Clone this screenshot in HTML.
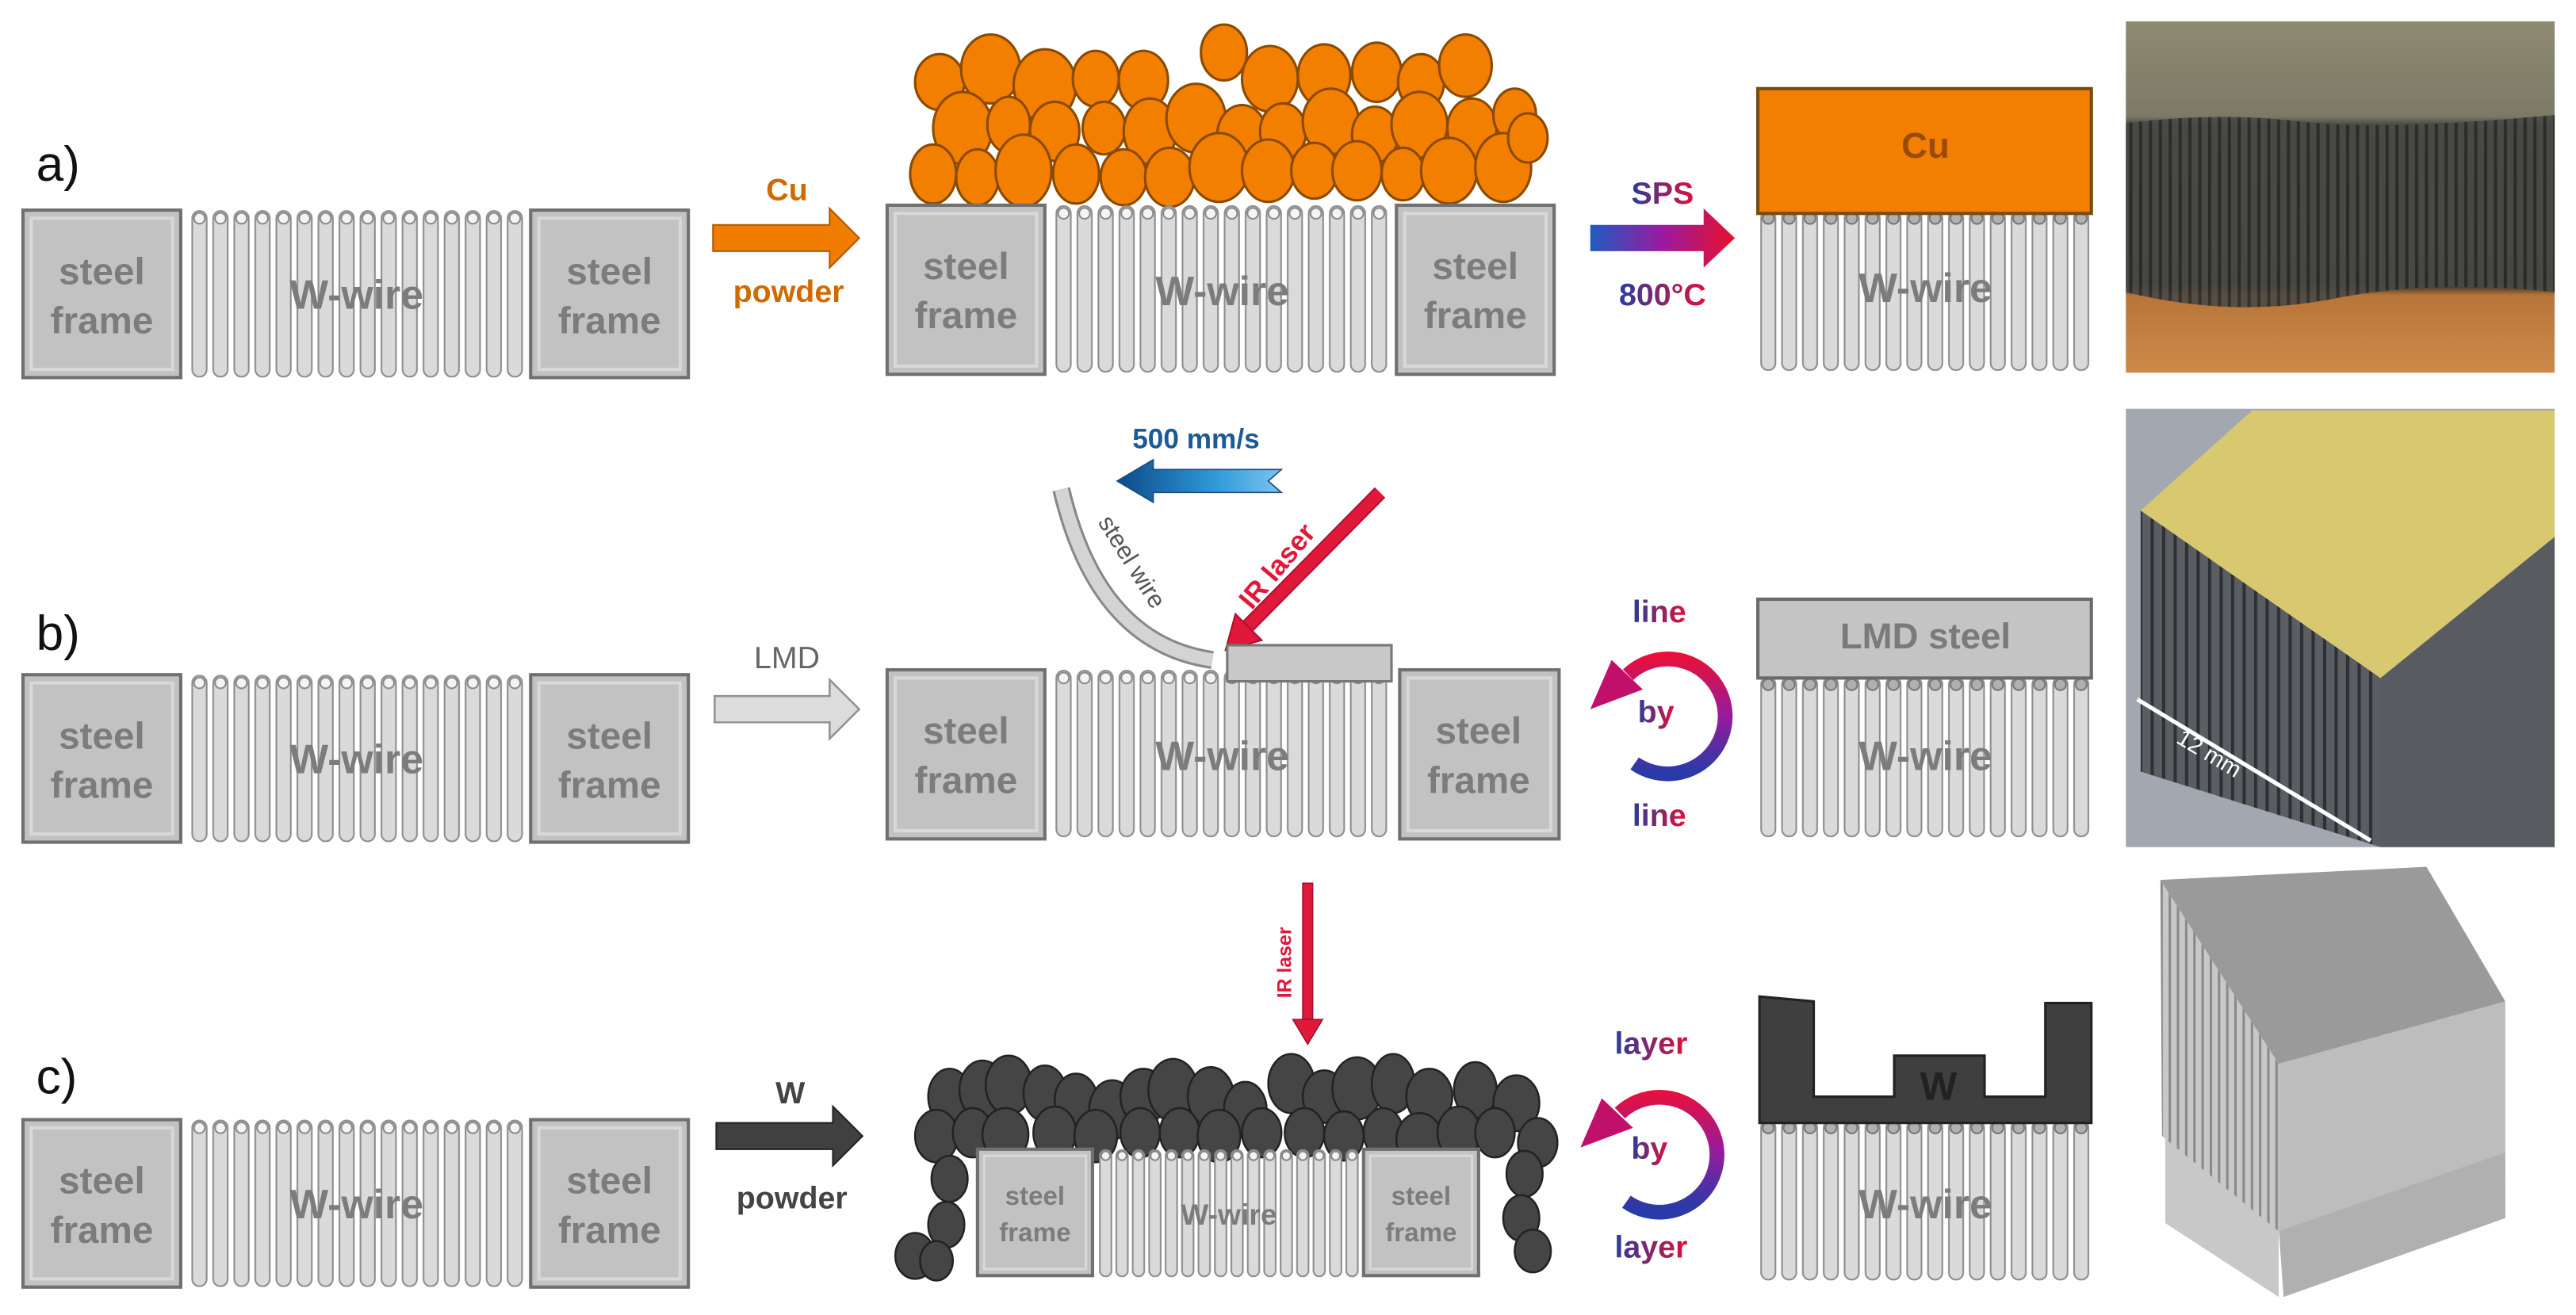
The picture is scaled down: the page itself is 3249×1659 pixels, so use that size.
<!DOCTYPE html>
<html><head><meta charset="utf-8"><style>
html,body{margin:0;padding:0;background:#fff;}
svg{display:block;}
text{font-family:"Liberation Sans",sans-serif;}
</style></head><body>
<svg width="3249" height="1659" viewBox="0 0 1568 801" preserveAspectRatio="none" xmlns="http://www.w3.org/2000/svg">
<defs>
<pattern id="w102" patternUnits="userSpaceOnUse" x="0" y="0" width="12.8" height="103"><rect x="2" y="0.5" width="8.8" height="101" rx="4.4" fill="#dadada" stroke="#8c8c8c" stroke-width="1"/><circle cx="6.4" cy="5" r="3.3" fill="#f4f4f4" stroke="#888" stroke-width="1"/></pattern>
<pattern id="w98" patternUnits="userSpaceOnUse" x="0" y="0" width="12.7" height="99"><rect x="2" y="0.5" width="8.7" height="97" rx="4.3" fill="#dadada" stroke="#8c8c8c" stroke-width="1"/><circle cx="6.35" cy="5" r="3.4" fill="#b0b0b0" stroke="#777" stroke-width="1"/></pattern>
<pattern id="w78" patternUnits="userSpaceOnUse" x="0" y="0" width="10" height="79"><rect x="1.5" y="0.5" width="7" height="77" rx="3.5" fill="#dadada" stroke="#8c8c8c" stroke-width="1"/><circle cx="5" cy="4" r="2.7" fill="#f4f4f4" stroke="#888" stroke-width="1"/></pattern>
<linearGradient id="sps" x1="0" x2="1" y1="0" y2="0"><stop offset="0" stop-color="#1f5cc0"/><stop offset="0.5" stop-color="#9a1aa0"/><stop offset="1" stop-color="#e8102a"/></linearGradient>
<linearGradient id="spsT" x1="0" x2="1" y1="0" y2="0"><stop offset="0" stop-color="#2a3c9c"/><stop offset="1" stop-color="#e0103a"/></linearGradient>
<linearGradient id="blu" x1="0" x2="1"><stop offset="0" stop-color="#0d4a8a"/><stop offset="0.6" stop-color="#2f9ad8"/><stop offset="1" stop-color="#7ac4ee"/></linearGradient>
<linearGradient id="cb" gradientUnits="userSpaceOnUse" x1="0" y1="400" x2="0" y2="470"><stop offset="0" stop-color="#e8103a"/><stop offset="0.5" stop-color="#9a1a9a"/><stop offset="1" stop-color="#2a3aa8"/></linearGradient>
<linearGradient id="cc" gradientUnits="userSpaceOnUse" x1="0" y1="665" x2="0" y2="735"><stop offset="0" stop-color="#e8103a"/><stop offset="0.5" stop-color="#9a1a9a"/><stop offset="1" stop-color="#2a3aa8"/></linearGradient>
<linearGradient id="pa" x1="0" x2="0" y1="0" y2="1"><stop offset="0" stop-color="#8e8a72"/><stop offset="0.27" stop-color="#7c7a66"/><stop offset="0.3" stop-color="#3e3e38"/><stop offset="0.75" stop-color="#2e2e2a"/><stop offset="0.78" stop-color="#b8753a"/><stop offset="1" stop-color="#cc8a48"/></linearGradient>
<pattern id="streak" patternUnits="userSpaceOnUse" width="6" height="10"><rect width="6" height="10" fill="#4a4a46"/><rect width="2" height="10" fill="#2a2a28"/></pattern>
<pattern id="streak2" patternUnits="userSpaceOnUse" width="5" height="10"><rect width="5" height="10" fill="#c8c8c8"/><rect width="1.5" height="10" fill="#8a8a8a"/></pattern>
<pattern id="streak3" patternUnits="userSpaceOnUse" width="7" height="10"><rect width="7" height="10" fill="#5a5e62"/><rect width="2" height="10" fill="#2e3034"/></pattern>
</defs>

<!-- ===== ROW A ===== -->
<text x="22" y="110" font-size="30" fill="#111">a)</text>
<rect x="14" y="128" width="96" height="102" fill="#c2c2c2" stroke="#707070" stroke-width="2"/>
<rect x="19" y="133" width="86" height="92" fill="none" stroke="#d8d8d8" stroke-width="2"/>
<text x="62" y="173" font-size="23" font-weight="bold" fill="#7c7c7c" text-anchor="middle">steel</text>
<text x="62" y="203" font-size="23" font-weight="bold" fill="#7c7c7c" text-anchor="middle">frame</text>
<g transform="translate(115,128)"><rect width="205" height="102" fill="url(#w102)"/></g>
<text x="217" y="188" font-size="25" font-weight="bold" fill="#7c7c7c" text-anchor="middle">W-wire</text>
<rect x="323" y="128" width="96" height="102" fill="#c2c2c2" stroke="#707070" stroke-width="2"/>
<rect x="328" y="133" width="86" height="92" fill="none" stroke="#d8d8d8" stroke-width="2"/>
<text x="371" y="173" font-size="23" font-weight="bold" fill="#7c7c7c" text-anchor="middle">steel</text>
<text x="371" y="203" font-size="23" font-weight="bold" fill="#7c7c7c" text-anchor="middle">frame</text>
<text x="479" y="122" font-size="19" font-weight="bold" fill="#d06a00" text-anchor="middle">Cu</text>
<polygon points="434,137 505,137 505,127 523,145 505,163 505,153 434,153" fill="#f07d00" stroke="#b05800" stroke-width="1"/>
<text x="480" y="184" font-size="19" font-weight="bold" fill="#d06a00" text-anchor="middle">powder</text>

<g fill="#f27f00" stroke="#8a4a00" stroke-width="1.5">
<ellipse cx="572" cy="50" rx="15" ry="17"/><ellipse cx="603" cy="42" rx="18" ry="21"/><ellipse cx="636" cy="52" rx="19" ry="22"/><ellipse cx="667" cy="48" rx="14" ry="17"/><ellipse cx="696" cy="49" rx="15" ry="18"/><ellipse cx="745" cy="32" rx="14" ry="17"/><ellipse cx="773" cy="48" rx="17" ry="20"/><ellipse cx="806" cy="46" rx="16" ry="19"/><ellipse cx="838" cy="44" rx="15" ry="18"/><ellipse cx="865" cy="50" rx="14" ry="17"/><ellipse cx="892" cy="40" rx="16" ry="19"/>
<ellipse cx="586" cy="78" rx="18" ry="22"/><ellipse cx="614" cy="76" rx="13" ry="17"/><ellipse cx="642" cy="80" rx="15" ry="18"/><ellipse cx="672" cy="78" rx="13" ry="16"/><ellipse cx="700" cy="80" rx="16" ry="20"/><ellipse cx="728" cy="72" rx="18" ry="21"/><ellipse cx="756" cy="82" rx="15" ry="18"/><ellipse cx="781" cy="80" rx="14" ry="17"/><ellipse cx="810" cy="74" rx="17" ry="20"/><ellipse cx="837" cy="82" rx="14" ry="17"/><ellipse cx="864" cy="76" rx="17" ry="20"/><ellipse cx="896" cy="78" rx="15" ry="18"/><ellipse cx="922" cy="70" rx="13" ry="16"/>
<ellipse cx="568" cy="106" rx="14" ry="18"/><ellipse cx="595" cy="108" rx="13" ry="17"/><ellipse cx="623" cy="104" rx="17" ry="22"/><ellipse cx="655" cy="106" rx="14" ry="18"/><ellipse cx="684" cy="108" rx="14" ry="17"/><ellipse cx="712" cy="108" rx="15" ry="18"/><ellipse cx="742" cy="102" rx="18" ry="21"/><ellipse cx="772" cy="104" rx="16" ry="19"/><ellipse cx="800" cy="104" rx="14" ry="17"/><ellipse cx="826" cy="104" rx="15" ry="18"/><ellipse cx="854" cy="106" rx="13" ry="16"/><ellipse cx="882" cy="104" rx="17" ry="20"/><ellipse cx="915" cy="102" rx="17" ry="21"/><ellipse cx="930" cy="84" rx="12" ry="15"/>
</g>
<rect x="540" y="125" width="96" height="103" fill="#c2c2c2" stroke="#707070" stroke-width="2"/>
<rect x="545" y="130" width="86" height="93" fill="none" stroke="#d8d8d8" stroke-width="2"/>
<text x="588" y="170" font-size="23" font-weight="bold" fill="#7c7c7c" text-anchor="middle">steel</text>
<text x="588" y="200" font-size="23" font-weight="bold" fill="#7c7c7c" text-anchor="middle">frame</text>
<g transform="translate(641,125)"><rect width="206" height="102" fill="url(#w102)"/></g>
<text x="744" y="186" font-size="25" font-weight="bold" fill="#7c7c7c" text-anchor="middle">W-wire</text>
<rect x="850" y="125" width="96" height="103" fill="#c2c2c2" stroke="#707070" stroke-width="2"/>
<rect x="855" y="130" width="86" height="93" fill="none" stroke="#d8d8d8" stroke-width="2"/>
<text x="898" y="170" font-size="23" font-weight="bold" fill="#7c7c7c" text-anchor="middle">steel</text>
<text x="898" y="200" font-size="23" font-weight="bold" fill="#7c7c7c" text-anchor="middle">frame</text>

<text x="1012" y="124" font-size="19" font-weight="bold" fill="url(#spsT)" text-anchor="middle">SPS</text>
<polygon points="968,137 1037,137 1037,127 1056,145 1037,163 1037,153 968,153" fill="url(#sps)"/>
<text x="1012" y="186" font-size="19" font-weight="bold" fill="url(#spsT)" text-anchor="middle">800°C</text>

<g transform="translate(1070,128)"><rect width="203" height="98" fill="url(#w98)"/></g>
<rect x="1070" y="54" width="203" height="76" fill="#f27f00" stroke="#7a4a10" stroke-width="2"/>
<text x="1172" y="96" font-size="22" font-weight="bold" fill="#9a4a00" text-anchor="middle">Cu</text>
<text x="1172" y="184" font-size="25" font-weight="bold" fill="#7c7c7c" text-anchor="middle">W-wire</text>

<rect x="1294" y="13" width="261" height="214" fill="url(#pa)"/>
<path d="M1294 75 Q1350 68 1400 74 T1555 70 L1555 178 Q1480 170 1420 182 T1294 178 Z" fill="url(#streak)" opacity="0.9"/>

<!-- ===== ROW B ===== -->
<text x="22" y="396" font-size="30" fill="#111">b)</text>
<rect x="14" y="411" width="96" height="102" fill="#c2c2c2" stroke="#707070" stroke-width="2"/>
<rect x="19" y="416" width="86" height="92" fill="none" stroke="#d8d8d8" stroke-width="2"/>
<text x="62" y="456" font-size="23" font-weight="bold" fill="#7c7c7c" text-anchor="middle">steel</text>
<text x="62" y="486" font-size="23" font-weight="bold" fill="#7c7c7c" text-anchor="middle">frame</text>
<g transform="translate(115,411)"><rect width="205" height="102" fill="url(#w102)"/></g>
<text x="217" y="471" font-size="25" font-weight="bold" fill="#7c7c7c" text-anchor="middle">W-wire</text>
<rect x="323" y="411" width="96" height="102" fill="#c2c2c2" stroke="#707070" stroke-width="2"/>
<rect x="328" y="416" width="86" height="92" fill="none" stroke="#d8d8d8" stroke-width="2"/>
<text x="371" y="456" font-size="23" font-weight="bold" fill="#7c7c7c" text-anchor="middle">steel</text>
<text x="371" y="486" font-size="23" font-weight="bold" fill="#7c7c7c" text-anchor="middle">frame</text>
<text x="479" y="407" font-size="19" fill="#666" text-anchor="middle">LMD</text>
<polygon points="435,424 505,424 505,414 523,432 505,450 505,440 435,440" fill="#dcdcdc" stroke="#909090" stroke-width="1.2"/>

<text x="728" y="273" font-size="17" font-weight="bold" fill="#1c5a96" text-anchor="middle">500 mm/s</text>
<polygon points="680,293 702,280 702,286 780,286 772,293 780,300 702,300 702,306" fill="url(#blu)" stroke="#1a4a80" stroke-width="0.8"/>
<path d="M646 298 Q668 392 738 402" fill="none" stroke="#888" stroke-width="11"/>
<path d="M646 298 Q668 392 738 402" fill="none" stroke="#d4d4d4" stroke-width="8"/>
<text x="0" y="0" font-size="15" fill="#555" transform="translate(668,318) rotate(58)">steel wire</text>
<line x1="840" y1="300" x2="758" y2="383" stroke="#b01030" stroke-width="9"/>
<line x1="840" y1="300" x2="758" y2="383" stroke="#e0183a" stroke-width="7"/>
<polygon points="746,396 752,374 768,390" fill="#e0183a" stroke="#b01030" stroke-width="1"/>
<text x="0" y="0" font-size="17" font-weight="bold" fill="#e0183a" transform="translate(762,372) rotate(-50)">IR laser</text>
<rect x="540" y="408" width="96" height="103" fill="#c2c2c2" stroke="#707070" stroke-width="2"/>
<rect x="545" y="413" width="86" height="93" fill="none" stroke="#d8d8d8" stroke-width="2"/>
<text x="588" y="453" font-size="23" font-weight="bold" fill="#7c7c7c" text-anchor="middle">steel</text>
<text x="588" y="483" font-size="23" font-weight="bold" fill="#7c7c7c" text-anchor="middle">frame</text>
<g transform="translate(641,408)"><rect width="206" height="102" fill="url(#w102)"/></g>
<rect x="747" y="393" width="100" height="22" fill="#c8c8c8" stroke="#777" stroke-width="1.5"/>
<text x="744" y="469" font-size="25" font-weight="bold" fill="#7c7c7c" text-anchor="middle">W-wire</text>
<rect x="852" y="408" width="97" height="103" fill="#c2c2c2" stroke="#707070" stroke-width="2"/>
<rect x="857" y="413" width="87" height="93" fill="none" stroke="#d8d8d8" stroke-width="2"/>
<text x="900" y="453" font-size="23" font-weight="bold" fill="#7c7c7c" text-anchor="middle">steel</text>
<text x="900" y="483" font-size="23" font-weight="bold" fill="#7c7c7c" text-anchor="middle">frame</text>

<text x="1010" y="379" font-size="19" font-weight="bold" fill="url(#spsT)" text-anchor="middle">line</text>
<path d="M995 465 A35 35 0 1 0 991 411" fill="none" stroke="url(#cb)" stroke-width="9"/>
<polygon points="968,432 981,402 1000,420" fill="#c0106a"/>
<text x="1008" y="440" font-size="19" font-weight="bold" fill="url(#spsT)" text-anchor="middle">by</text>
<text x="1010" y="503" font-size="19" font-weight="bold" fill="url(#spsT)" text-anchor="middle">line</text>

<g transform="translate(1070,412)"><rect width="203" height="98" fill="url(#w98)"/></g>
<rect x="1070" y="365" width="203" height="48" fill="#c4c4c4" stroke="#6a6a6a" stroke-width="2"/>
<text x="1172" y="395" font-size="22" font-weight="bold" fill="#7a7a7a" text-anchor="middle">LMD steel</text>
<text x="1172" y="469" font-size="25" font-weight="bold" fill="#7c7c7c" text-anchor="middle">W-wire</text>

<rect x="1294" y="249" width="261" height="267" fill="#a3a8b0"/>
<polygon points="1303,311 1449,413 1449,516 1303,470" fill="url(#streak3)"/>
<polygon points="1449,413 1555,327 1555,516 1449,516" fill="#585c60"/>
<polygon points="1303,311 1371,250 1555,250 1555,327 1449,413" fill="#d8c870"/>
<line x1="1301" y1="426" x2="1443" y2="512" stroke="#fff" stroke-width="2.5"/>
<text x="0" y="0" font-size="14" fill="#fff" transform="translate(1324,452) rotate(31)">12 mm</text>

<!-- ===== ROW C ===== -->
<text x="22" y="666" font-size="30" fill="#111">c)</text>
<rect x="14" y="682" width="96" height="102" fill="#c2c2c2" stroke="#707070" stroke-width="2"/>
<rect x="19" y="687" width="86" height="92" fill="none" stroke="#d8d8d8" stroke-width="2"/>
<text x="62" y="727" font-size="23" font-weight="bold" fill="#7c7c7c" text-anchor="middle">steel</text>
<text x="62" y="757" font-size="23" font-weight="bold" fill="#7c7c7c" text-anchor="middle">frame</text>
<g transform="translate(115,682)"><rect width="205" height="102" fill="url(#w102)"/></g>
<text x="217" y="742" font-size="25" font-weight="bold" fill="#7c7c7c" text-anchor="middle">W-wire</text>
<rect x="323" y="682" width="96" height="102" fill="#c2c2c2" stroke="#707070" stroke-width="2"/>
<rect x="328" y="687" width="86" height="92" fill="none" stroke="#d8d8d8" stroke-width="2"/>
<text x="371" y="727" font-size="23" font-weight="bold" fill="#7c7c7c" text-anchor="middle">steel</text>
<text x="371" y="757" font-size="23" font-weight="bold" fill="#7c7c7c" text-anchor="middle">frame</text>
<text x="481" y="672" font-size="19" font-weight="bold" fill="#444" text-anchor="middle">W</text>
<polygon points="436,684 507,684 507,674 525,692 507,710 507,700 436,700" fill="#404040" stroke="#222" stroke-width="1"/>
<text x="482" y="736" font-size="19" font-weight="bold" fill="#444" text-anchor="middle">powder</text>

<rect x="793" y="538" width="6" height="85" fill="#e0183a" stroke="#a01030" stroke-width="0.8"/>
<polygon points="787,621 805,621 796,636" fill="#e0183a" stroke="#a01030" stroke-width="0.8"/>
<text x="0" y="0" font-size="12" font-weight="bold" fill="#e0183a" transform="translate(786,608) rotate(-90)">IR laser</text>
<g fill="#454545" stroke="#222" stroke-width="1.2">
<ellipse cx="578" cy="668" rx="13" ry="17"/><ellipse cx="598" cy="664" rx="14" ry="18"/><ellipse cx="614" cy="661" rx="14" ry="18"/><ellipse cx="636" cy="666" rx="13" ry="17"/><ellipse cx="655" cy="670" rx="13" ry="16"/><ellipse cx="677" cy="676" rx="14" ry="18"/><ellipse cx="696" cy="668" rx="14" ry="17"/><ellipse cx="714" cy="664" rx="15" ry="19"/><ellipse cx="737" cy="668" rx="14" ry="18"/><ellipse cx="758" cy="676" rx="13" ry="17"/><ellipse cx="786" cy="660" rx="14" ry="18"/><ellipse cx="806" cy="668" rx="13" ry="16"/><ellipse cx="826" cy="663" rx="15" ry="19"/><ellipse cx="848" cy="660" rx="13" ry="18"/><ellipse cx="870" cy="668" rx="14" ry="17"/><ellipse cx="898" cy="664" rx="13" ry="17"/><ellipse cx="923" cy="672" rx="14" ry="17"/>
<ellipse cx="570" cy="692" rx="13" ry="16"/><ellipse cx="592" cy="690" rx="12" ry="15"/><ellipse cx="612" cy="691" rx="14" ry="16"/><ellipse cx="642" cy="690" rx="13" ry="16"/><ellipse cx="667" cy="692" rx="13" ry="16"/><ellipse cx="694" cy="690" rx="12" ry="15"/><ellipse cx="718" cy="690" rx="12" ry="15"/><ellipse cx="742" cy="692" rx="13" ry="16"/><ellipse cx="768" cy="690" rx="12" ry="15"/><ellipse cx="794" cy="690" rx="12" ry="15"/><ellipse cx="818" cy="692" rx="12" ry="15"/><ellipse cx="842" cy="690" rx="12" ry="15"/><ellipse cx="864" cy="694" rx="14" ry="16"/><ellipse cx="888" cy="690" rx="13" ry="16"/><ellipse cx="910" cy="690" rx="12" ry="15"/><ellipse cx="936" cy="696" rx="12" ry="15"/>
<ellipse cx="578" cy="718" rx="11" ry="14"/><ellipse cx="576" cy="746" rx="11" ry="14"/><ellipse cx="557" cy="765" rx="12" ry="14"/><ellipse cx="570" cy="768" rx="10" ry="12"/>
<ellipse cx="928" cy="715" rx="11" ry="14"/><ellipse cx="926" cy="742" rx="11" ry="14"/><ellipse cx="933" cy="762" rx="11" ry="13"/>
</g>
<rect x="595" y="700" width="70" height="77" fill="#c2c2c2" stroke="#707070" stroke-width="2"/>
<rect x="599" y="704" width="62" height="69" fill="none" stroke="#d8d8d8" stroke-width="1.5"/>
<text x="630" y="734" font-size="16" font-weight="bold" fill="#7c7c7c" text-anchor="middle">steel</text>
<text x="630" y="756" font-size="16" font-weight="bold" fill="#7c7c7c" text-anchor="middle">frame</text>
<g transform="translate(668,700)"><rect width="160" height="78" fill="url(#w78)"/></g>
<text x="748" y="746" font-size="18" font-weight="bold" fill="#7c7c7c" text-anchor="middle">W-wire</text>
<rect x="830" y="700" width="70" height="77" fill="#c2c2c2" stroke="#707070" stroke-width="2"/>
<rect x="834" y="704" width="62" height="69" fill="none" stroke="#d8d8d8" stroke-width="1.5"/>
<text x="865" y="734" font-size="16" font-weight="bold" fill="#7c7c7c" text-anchor="middle">steel</text>
<text x="865" y="756" font-size="16" font-weight="bold" fill="#7c7c7c" text-anchor="middle">frame</text>

<text x="1005" y="642" font-size="19" font-weight="bold" fill="url(#spsT)" text-anchor="middle">layer</text>
<path d="M990 732 A35 35 0 1 0 986 678" fill="none" stroke="url(#cc)" stroke-width="9"/>
<polygon points="962,699 975,669 994,687" fill="#c0106a"/>
<text x="1004" y="706" font-size="19" font-weight="bold" fill="url(#spsT)" text-anchor="middle">by</text>
<text x="1005" y="766" font-size="19" font-weight="bold" fill="url(#spsT)" text-anchor="middle">layer</text>

<g transform="translate(1070,682)"><rect width="203" height="98" fill="url(#w98)"/></g>
<polygon points="1071,607 1104,610 1104,668 1153,668 1153,643 1208,643 1208,668 1245,668 1245,611 1273,611 1273,684 1071,684" fill="#3f3f3f" stroke="#222" stroke-width="1.5"/>
<text x="1180" y="670" font-size="24" font-weight="bold" fill="#222" text-anchor="middle">W</text>
<text x="1172" y="742" font-size="25" font-weight="bold" fill="#7c7c7c" text-anchor="middle">W-wire</text>

<polygon points="1318,690 1387,748 1387,790 1318,745" fill="#c8c8c8"/>
<polygon points="1387,748 1525,700 1525,742 1390,790" fill="#b0b0b0"/>
<polygon points="1315,536 1387,648 1387,750 1316,692" fill="url(#streak2)"/>
<polygon points="1387,648 1525,610 1525,702 1387,750" fill="#bdbdbd"/>
<polygon points="1315,536 1477,528 1525,610 1387,648" fill="#9a9a9a"/>
</svg>
</body></html>
